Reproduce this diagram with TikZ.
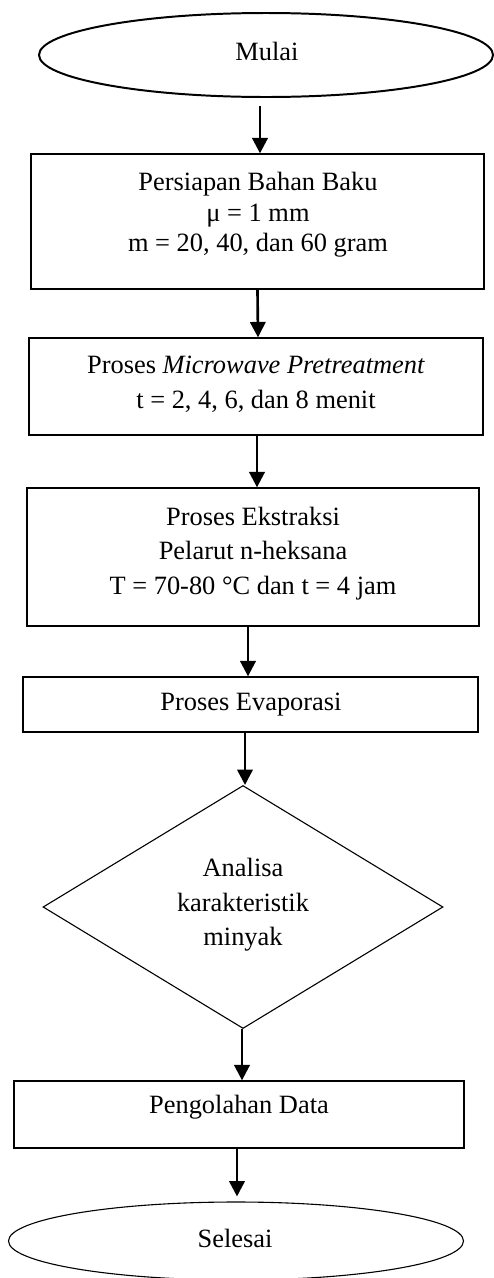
\documentclass[tikz,border=0pt]{standalone}
\usepackage{fontspec}
\setmainfont{Liberation Serif}
\usetikzlibrary{shapes.geometric}
\usetikzlibrary{arrows.meta}

\def\pu{0.4545pt}

\begin{document}
\begin{tikzpicture}[x=\pu,y=-\pu,
  proc/.style={draw,line width=0.6pt,rectangle,inner sep=0pt},
  term/.style={draw,ellipse,inner sep=0pt},
  decide/.style={draw,line width=0.5pt,diamond,inner sep=0pt},
  txt/.style={align=center,inner sep=0pt,font=\fontsize{12}{#1}\selectfont},
  txt/.default=14,
  flow/.style={line width=1.2pt,-{Triangle[length=7pt,width=7pt]}}]
  \useasboundingbox (0,0) rectangle (494,1278);

  \node[term,line width=0.9pt,minimum width=454*\pu,minimum height=84*\pu] (e1) at (266,55) {};
  \node[proc,minimum width=453*\pu,minimum height=135*\pu] (b1) at (257.5,221.5) {};
  \node[proc,minimum width=454*\pu,minimum height=97*\pu] (b2) at (256,386.5) {};
  \node[proc,minimum width=452*\pu,minimum height=138*\pu] (b3) at (253,557) {};
  \node[proc,minimum width=455*\pu,minimum height=55*\pu] (b4) at (250.5,704.5) {};
  \node[decide,minimum width=400*\pu,minimum height=243*\pu] (d1) at (243,907) {};
  \node[proc,minimum width=450*\pu,minimum height=67*\pu] (b5) at (239,1114.5) {};
  \node[term,line width=0.5pt,minimum width=455*\pu,minimum height=78*\pu] (e2) at (236,1241) {};

  \node[txt] (t0) at (267,51) {Mulai};
  \node[txt=13.8] (t1) at (258,215) {Persiapan Bahan Baku\\ μ = 1 mm\\ m = 20, 40, dan 60 gram};
  \node[txt=16] (t2) at (256,384) {Proses \textit{Microwave Pretreatment}\\ t = 2, 4, 6, dan 8 menit};
  \node[txt=15.7] (t3) at (253,553.5) {Proses Ekstraksi\\ Pelarut n-heksana\\ T = 70-80 °C dan t = 4 jam};
  \node[txt] (t4) at (251,705) {Proses Evaporasi};
  \node[txt=15.7] (t5) at (243,905) {Analisa\\ karakteristik\\ minyak};
  \node[txt] (t6) at (239,1107) {Pengolahan Data};
  \node[txt] (t7) at (235,1238) {Selesai};

  \draw[flow] ([xshift=-6*\pu,yshift=-8*\pu]e1.south) -- ([xshift=2.5*\pu]b1.north);
  \draw[flow] (b1.south) -- ([xshift=2*\pu]b2.north);
  \draw[flow] ([xshift=1*\pu]b2.south) -- ([xshift=4*\pu]b3.north);
  \draw[flow] ([xshift=-5*\pu]b3.south) -- ([xshift=-2.5*\pu]b4.north);
  \draw[flow] ([xshift=-5.5*\pu]b4.south) -- ([xshift=2*\pu]d1.north);
  \draw[flow] ([xshift=-1*\pu]d1.south) -- ([xshift=3*\pu]b5.north);
  \draw[flow] ([xshift=-2*\pu]b5.south) -- ([xshift=1*\pu,yshift=5*\pu]e2.north);

\end{tikzpicture}
\end{document}
